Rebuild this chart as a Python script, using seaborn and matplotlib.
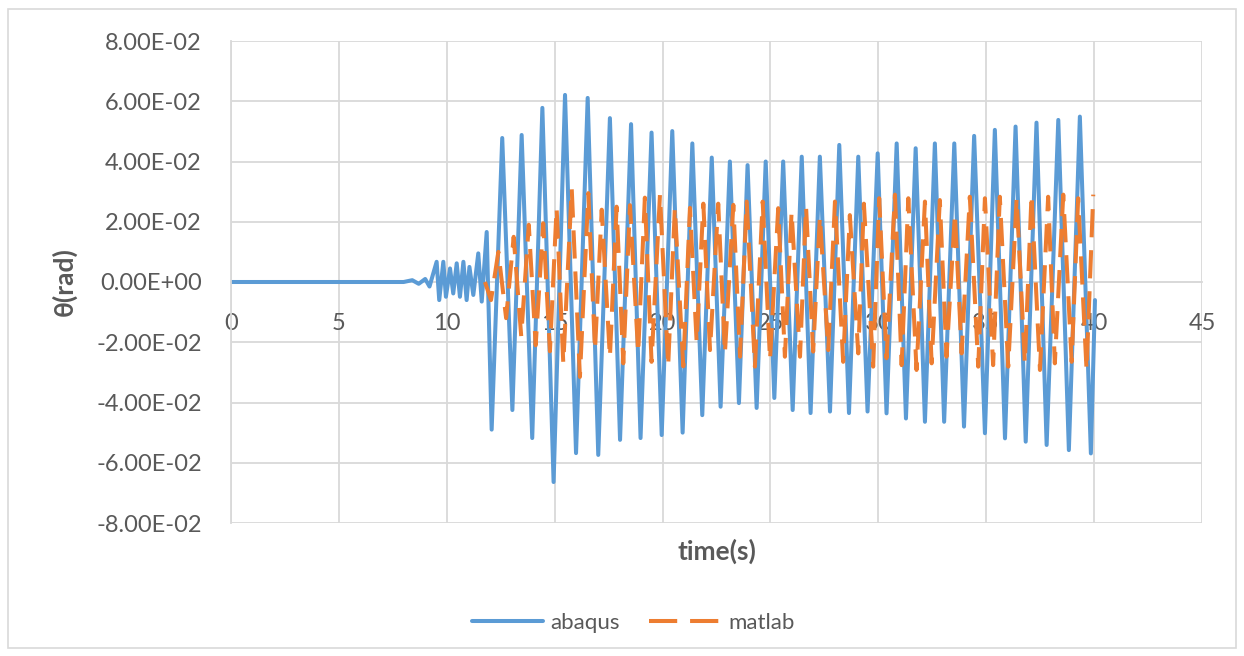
import numpy as np
import pandas as pd
import matplotlib
matplotlib.use("Agg")
import matplotlib.pyplot as plt
import seaborn as sns
from matplotlib.lines import Line2D
from matplotlib.patches import Rectangle
from matplotlib.ticker import FuncFormatter

# ---------------- data ----------------
abaqus_t = [0.0, 4.0, 8.0, 8.4, 8.7, 9.0, 9.2, 9.38,
            9.53, 9.65, 9.84, 9.96, 10.15, 10.30, 10.46, 10.61, 10.77, 10.92,
            11.05, 11.23, 11.46, 11.62, 11.85, 12.08,
            12.57, 13.04, 13.47, 13.96, 14.43, 14.95, 15.48, 15.99, 16.53, 17.02,
            17.56, 18.03, 18.54, 18.98, 19.49, 19.96, 20.45, 20.93, 21.38, 21.84,
            22.28, 22.69, 23.12, 23.54, 23.94, 24.36, 24.78, 25.18, 25.59, 26.03,
            26.45, 26.86, 27.29, 27.76, 28.19, 28.64, 29.07, 29.50, 29.97, 30.38,
            30.85, 31.28, 31.73, 32.16, 32.62, 33.05, 33.52, 33.97, 34.44, 34.94,
            35.40, 35.87, 36.36, 36.83, 37.33, 37.80, 38.34, 38.83, 39.34, 39.85,
            40.04]
abaqus_v = [0.0, 0.0, 0.0, 0.0006, -0.0006, 0.0010, -0.0015, 0.0030,
            0.0067, -0.0060, 0.0067, -0.0049, 0.0045, -0.0038, 0.0062, -0.0049, 0.0067, -0.0060,
            0.0050, -0.0043, 0.0095, -0.0065, 0.0166, -0.0490,
            0.0478, -0.0425, 0.0488, -0.0518, 0.0578, -0.0664, 0.0621, -0.0568, 0.0611, -0.0574,
            0.0544, -0.0524, 0.0524, -0.0518, 0.0496, -0.0508, 0.0501, -0.0500, 0.0460, -0.0442,
            0.0413, -0.0414, 0.0400, -0.0402, 0.0388, -0.0418, 0.0400, -0.0385, 0.0400, -0.0425,
            0.0416, -0.0435, 0.0416, -0.0430, 0.0455, -0.0435, 0.0416, -0.0430, 0.0427, -0.0436,
            0.0460, -0.0453, 0.0444, -0.0464, 0.0460, -0.0464, 0.0460, -0.0480, 0.0485, -0.0502,
            0.0505, -0.0519, 0.0516, -0.0530, 0.0529, -0.0541, 0.0538, -0.0558, 0.0549, -0.0569,
            -0.0060]

matlab_t = [11.77, 12.05, 12.39, 12.75, 13.10, 13.45, 13.80, 14.12, 14.47, 14.78,
            15.09, 15.40, 15.79, 16.17, 16.56, 16.87, 17.18, 17.56, 17.87, 18.18,
            18.49, 18.87, 19.18, 19.49, 19.88, 20.26, 20.57, 20.96, 21.27, 21.58,
            21.89, 22.20, 22.58, 22.89, 23.28, 23.59, 23.90, 24.28, 24.64, 24.98,
            25.36, 25.67, 25.98, 26.37, 26.65, 26.98, 27.29, 27.68, 27.99, 28.37,
            28.68, 29.07, 29.33, 29.76, 30.04, 30.38, 30.77, 31.08, 31.39, 31.77,
            32.16, 32.47, 32.85, 33.16, 33.55, 33.86, 34.24, 34.63, 34.94, 35.32,
            35.63, 36.02, 36.41, 36.79, 37.10, 37.49, 37.87, 38.18, 38.57, 38.96,
            39.26, 39.65, 39.96]
matlab_v = [0.0, -0.0060, 0.0100, -0.0120, 0.0150, -0.0180, 0.0190, -0.0210, 0.0195, -0.0230,
            0.0246, -0.0270, 0.0310, -0.0315, 0.0295, -0.0226, 0.0240, -0.0250, 0.0250, -0.0270,
            0.0255, -0.0236, 0.0280, -0.0265, 0.0290, -0.0280, 0.0246, -0.0280, 0.0246, -0.0200,
            0.0260, -0.0226, 0.0260, -0.0237, 0.0256, -0.0248, 0.0267, -0.0281, 0.0267, -0.0259,
            0.0245, -0.0248, 0.0233, -0.0248, 0.0250, -0.0231, 0.0217, -0.0226, 0.0267, -0.0265,
            0.0222, -0.0237, 0.0260, -0.0281, 0.0278, -0.0253, 0.0290, -0.0276, 0.0278, -0.0292,
            0.0267, -0.0270, 0.0272, -0.0248, 0.0228, -0.0237, 0.0283, -0.0281, 0.0278, -0.0276,
            0.0283, -0.0281, 0.0278, -0.0270, 0.0290, -0.0292, 0.0283, -0.0270, 0.0290, -0.0265,
            0.0278, -0.0292, 0.0290]

series_names = ["abaqus", "matlab"]
x_ticks = [0, 5, 10, 15, 20, 25, 30, 35, 40, 45]
y_ticks = [-0.08, -0.06, -0.04, -0.02, 0.0, 0.02, 0.04, 0.06, 0.08]
x_label = "time(s)"
y_label = "θ(rad)"

# ---------------- build frame ----------------
df = pd.concat([
    pd.DataFrame({"time": abaqus_t, "theta": abaqus_v, "series": series_names[0]}),
    pd.DataFrame({"time": matlab_t, "theta": matlab_v, "series": series_names[1]}),
], ignore_index=True)

sns.set_theme(style="white")
plt.rcParams["font.family"] = ["Lato", "DejaVu Sans"]

BLUE = "#5B9BD5"
ORANGE = "#ED7D31"
GRID = "#D9D9D9"
TXT = "#595959"
LW = 2.9
DASH = (7.0, 3.2)

fig = plt.figure(figsize=(12.44, 6.56), dpi=100)
fig.patch.set_facecolor("white")
W, H = 1244, 656
ax = fig.add_axes([231 / W, 1 - 523 / H, (1202 - 231) / W, (523 - 41) / H])

sns.lineplot(data=df, x="time", y="theta", hue="series", style="series",
             palette={"abaqus": BLUE, "matlab": ORANGE},
             dashes={"abaqus": "", "matlab": DASH},
             sort=False, estimator=None, linewidth=LW, legend=False, ax=ax)
for ln in ax.get_lines():
    ln.set_solid_joinstyle("round")
    ln.set_solid_capstyle("round")
    ln.set_dash_joinstyle("round")
    ln.set_dash_capstyle("butt")

ax.set_xlim(0, 45)
ax.set_ylim(-0.08, 0.08)
ax.set_xticks(x_ticks)
ax.set_yticks(y_ticks)
ax.yaxis.set_major_formatter(FuncFormatter(lambda v, p: f"{v:.2E}"))
ax.xaxis.set_major_formatter(FuncFormatter(lambda v, p: f"{v:g}"))

ax.grid(True, color=GRID, linewidth=1.3)
ax.set_axisbelow(True)
for s in ["top", "right"]:
    ax.spines[s].set_visible(False)
ax.spines["left"].set_color(GRID)
ax.spines["left"].set_linewidth(1.3)
ax.spines["bottom"].set_position(("data", 0))
ax.spines["bottom"].set_color(GRID)
ax.spines["bottom"].set_linewidth(1.3)
ax.spines["bottom"].set_zorder(0.5)

ax.tick_params(axis="x", length=0, pad=22, labelsize=17, labelcolor=TXT)
ax.tick_params(axis="y", length=0, pad=21, labelsize=17, labelcolor=TXT)

ax.set_xlabel(x_label, fontsize=19, fontweight="bold", color=TXT)
ax.set_ylabel(y_label, fontsize=19, fontweight="bold", color=TXT)
ax.xaxis.set_label_coords(0.5, (523 - 551) / 482)
ax.xaxis.label.set_verticalalignment("center")
ax.yaxis.set_label_coords((64 - 231) / 971, 0.5)
ax.yaxis.label.set_verticalalignment("center")

handles = [Line2D([0], [0], color=BLUE, lw=LW),
           Line2D([0], [0], color=ORANGE, lw=LW, dashes=DASH)]
leg = fig.legend(handles, series_names, loc="center", bbox_to_anchor=(633 / W, 1 - 623 / H),
                 ncol=2, frameon=False, fontsize=16, handlelength=3.2,
                 handletextpad=0.35, columnspacing=1.3)
for t in leg.get_texts():
    t.set_color(TXT)

fig.add_artist(Rectangle((8 / W, 1 - 648 / H), (1236 - 8) / W, (648 - 9) / H,
                         transform=fig.transFigure, fill=False, edgecolor=GRID, lw=1.2))

fig.savefig("out.png", dpi=100, facecolor="white")
